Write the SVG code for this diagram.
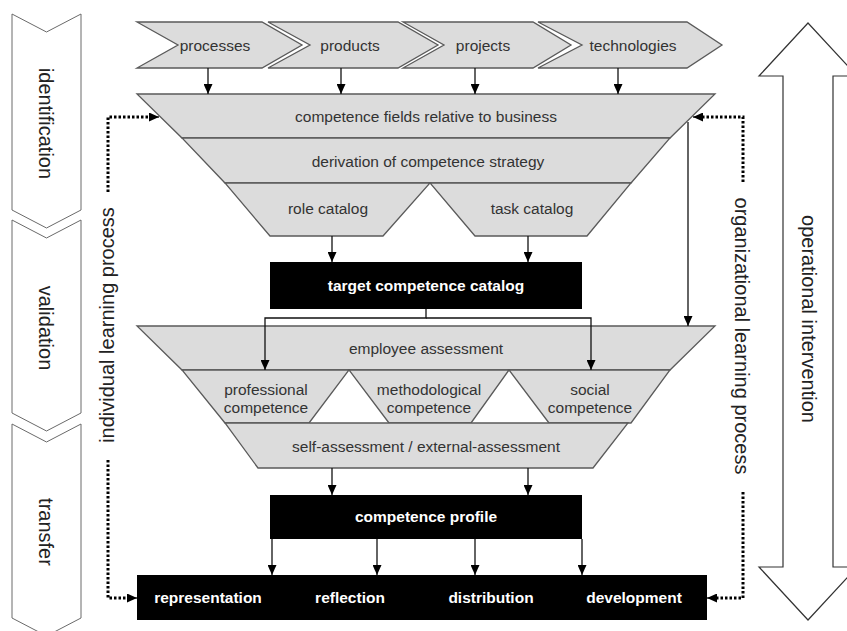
<svg xmlns="http://www.w3.org/2000/svg" width="847" height="631" viewBox="0 0 847 631">
<style>
.stage{fill:#fff;stroke:#6a6a6a;stroke-width:1}
.g{fill:#dcdcdc;stroke:#5a5a5a;stroke-width:1.3;stroke-linejoin:miter}
.blk{fill:#000}
.t{font-family:"Liberation Sans",Arial,sans-serif;font-size:15.5px;fill:#333;text-anchor:middle}
.w{font-family:"Liberation Sans",Arial,sans-serif;font-size:15.5px;font-weight:bold;fill:#fff;text-anchor:middle}
.v{font-family:"Liberation Sans",Arial,sans-serif;font-size:20px;fill:#222;text-anchor:middle}
.c{fill:none;stroke:#111;stroke-width:1.3}
.d{fill:none;stroke:#000;stroke-width:3;stroke-dasharray:2.5 2}
.big{fill:#fff;stroke:#333;stroke-width:1.2}
</style>
<defs>
<marker id="ah" markerUnits="userSpaceOnUse" markerWidth="10" markerHeight="9" refX="10" refY="4.5" orient="auto">
<path d="M0,0 L10,4.5 L0,9 z" fill="#000"/>
</marker>
</defs>

<g id="stage-identification">
<polygon class="stage" points="12,14 46.5,32 81,14 81,210 46.5,228 12,210"/>
<text class="v" transform="translate(46,123.5) rotate(90)" y="7">identification</text>
</g>
<g id="stage-validation">
<polygon class="stage" points="12,220 46.5,238 81,220 81,413 46.5,431 12,413"/>
<text class="v" transform="translate(46,328) rotate(90)" y="7">validation</text>
</g>
<g id="stage-transfer">
<polygon class="stage" points="12,424 46.5,442 81,424 81,618 46.5,636 12,618"/>
<text class="v" transform="translate(46,532) rotate(90)" y="7">transfer</text>
</g>

<g id="operational-intervention">
<polygon class="big" points="808,23 857,76 833,76 833,567 857,567 808,620 759,567 783,567 783,76 759,76"/>
<text class="v" transform="translate(808,319) rotate(90)" y="6">operational intervention</text>
</g>

<g id="processes">
<polygon class="g" points="137,22 262,22 302,45 262,68 137,68 178,45"/>
<text class="t" x="215" y="51">processes</text>
</g>
<g id="products">
<polygon class="g" points="268,22 398,22 438,45 398,68 268,68 310,45"/>
<text class="t" x="350" y="51">products</text>
</g>
<g id="projects">
<polygon class="g" points="403,22 533,22 571,45 533,68 403,68 444,45"/>
<text class="t" x="483" y="51">projects</text>
</g>
<g id="technologies">
<polygon class="g" points="538,22 687,22 722,45 687,68 538,68 582,45"/>
<text class="t" x="633" y="51">technologies</text>
</g>

<g id="competence-fields">
<polygon class="g" points="137,94 715,94 670,138 182,138"/>
<text class="t" x="426" y="122">competence fields relative to business</text>
</g>
<g id="derivation">
<polygon class="g" points="182,138 670,138 631,183 225,183"/>
<text class="t" x="428" y="167">derivation of competence strategy</text>
</g>
<g id="role-catalog">
<polygon class="g" points="225,183 430,183 383,236 270,236"/>
<text class="t" x="328" y="214">role catalog</text>
</g>
<g id="task-catalog">
<polygon class="g" points="430,183 631,183 587,236 475,236"/>
<text class="t" x="532" y="214">task catalog</text>
</g>

<g id="target-competence-catalog">
<rect class="blk" x="270" y="262" width="312" height="47"/>
<text class="w" x="426" y="291">target competence catalog</text>
</g>

<g id="employee-assessment">
<polygon class="g" points="137,326 715,326 670,370 182,370"/>
<text class="t" x="426" y="354">employee assessment</text>
</g>
<g id="professional-competence">
<polygon class="g" points="182,370 349,370 309,423 225,423"/>
<text class="t" x="266" y="395">professional</text>
<text class="t" x="266" y="413">competence</text>
</g>
<g id="methodological-competence">
<polygon class="g" points="349,370 509,370 471,423 389,423"/>
<text class="t" x="429" y="395">methodological</text>
<text class="t" x="429" y="413">competence</text>
</g>
<g id="social-competence">
<polygon class="g" points="509,370 670,370 631,423 549,423"/>
<text class="t" x="590" y="395">social</text>
<text class="t" x="590" y="413">competence</text>
</g>
<g id="self-assessment">
<polygon class="g" points="225,423 628,423 593,468 258,468"/>
<text class="t" x="426" y="452">self-assessment / external-assessment</text>
</g>

<g id="competence-profile">
<rect class="blk" x="270" y="495" width="312" height="44"/>
<text class="w" x="426" y="522">competence profile</text>
</g>

<g id="outcomes">
<rect class="blk" x="137" y="575" width="570" height="45"/>
<text class="w" x="208" y="603">representation</text>
<text class="w" x="350" y="603">reflection</text>
<text class="w" x="491" y="603">distribution</text>
<text class="w" x="634" y="603">development</text>
</g>

<g id="individual-learning-process">
<text class="v" transform="translate(108,325) rotate(-90)" y="6">individual learning process</text>
</g>
<g id="organizational-learning-process">
<text class="v" transform="translate(741,336) rotate(90)" y="6">organizational learning process</text>
</g>

<g id="connectors">
<line class="c" x1="208" y1="68" x2="208" y2="94" marker-end="url(#ah)"/>
<line class="c" x1="341" y1="68" x2="341" y2="94" marker-end="url(#ah)"/>
<line class="c" x1="475" y1="68" x2="475" y2="94" marker-end="url(#ah)"/>
<line class="c" x1="618" y1="68" x2="618" y2="94" marker-end="url(#ah)"/>
<line class="c" x1="332" y1="236" x2="332" y2="262" marker-end="url(#ah)"/>
<line class="c" x1="528" y1="236" x2="528" y2="262" marker-end="url(#ah)"/>
<line class="c" x1="688" y1="122" x2="688" y2="326" marker-end="url(#ah)"/>
<path class="c" d="M426,309 V318 H265 V370" marker-end="url(#ah)"/>
<path class="c" d="M426,318 H591 V370" marker-end="url(#ah)"/>
<line class="c" x1="332" y1="468" x2="332" y2="495" marker-end="url(#ah)"/>
<line class="c" x1="528" y1="468" x2="528" y2="495" marker-end="url(#ah)"/>
<line class="c" x1="272" y1="539" x2="272" y2="575" marker-end="url(#ah)"/>
<line class="c" x1="377" y1="539" x2="377" y2="575" marker-end="url(#ah)"/>
<line class="c" x1="475" y1="539" x2="475" y2="575" marker-end="url(#ah)"/>
<line class="c" x1="582" y1="539" x2="582" y2="575" marker-end="url(#ah)"/>
<path class="d" d="M108,192 V117 H150"/>
<path class="c" d="M150,117 H159" marker-end="url(#ah)"/>
<path class="d" d="M108,460 V598 H128"/>
<path class="c" d="M128,598 H137" marker-end="url(#ah)"/>
<path class="d" d="M743,182 V117 H702"/>
<path class="c" d="M702,117 H693" marker-end="url(#ah)"/>
<path class="d" d="M743,492 V598 H716"/>
<path class="c" d="M716,598 H707" marker-end="url(#ah)"/>
</g>
</svg>
